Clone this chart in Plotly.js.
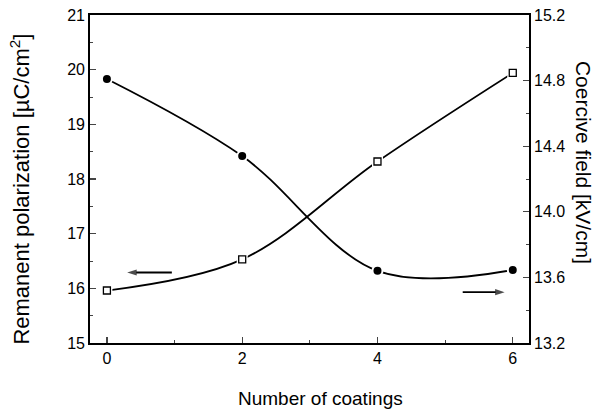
<!DOCTYPE html>
<html>
<head>
<meta charset="utf-8">
<script src="https://cdn.plot.ly/plotly-3.0.1.min.js"></script>
<style>html,body{margin:0;padding:0;background:#fff;}#chart{width:602px;height:419px;}</style>
</head>
<body>
<div id="chart"></div>
<script>
// Data
const coatings = [0, 2, 4, 6];
const remanentPolarization = [15.96, 16.53, 18.32, 19.94]; // µC/cm², left axis, open squares
const coerciveField = [14.81, 14.34, 13.64, 13.645];        // kV/cm, right axis, filled circles
const xTicks = [0, 2, 4, 6];
const leftTicks = [15, 16, 17, 18, 19, 20, 21];
const rightTicks = [13.2, 13.6, 14.0, 14.4, 14.8, 15.2];
// indicator arrows (tail -> head), in left-axis data units
const leftArrowX = [0.96, 0.30];
const leftArrowY = [16.29, 16.29];
const rightArrowX = [5.26, 5.88];
const rightArrowY = [15.93, 15.93];

const FONT = 'Liberation Sans, Arial, Helvetica, sans-serif';

const traces = [
  // curves
  {x: coatings, y: remanentPolarization, yaxis: 'y', mode: 'lines',
   line: {shape: 'spline', smoothing: 1, color: '#000', width: 1.8}, hoverinfo: 'skip', showlegend: false},
  {x: coatings, y: coerciveField, yaxis: 'y2', mode: 'lines',
   line: {shape: 'spline', smoothing: 1, color: '#000', width: 1.8}, hoverinfo: 'skip', showlegend: false},
  // white halos to mimic the gaps between line and symbol
  {x: coatings, y: remanentPolarization, yaxis: 'y', mode: 'markers',
   marker: {symbol: 'square', size: 11, color: '#fff'}, hoverinfo: 'skip', showlegend: false},
  {x: coatings, y: coerciveField, yaxis: 'y2', mode: 'markers',
   marker: {symbol: 'circle', size: 12, color: '#fff'}, hoverinfo: 'skip', showlegend: false},
  // symbols
  {x: coatings, y: remanentPolarization, yaxis: 'y', mode: 'markers', name: 'Remanent polarization',
   marker: {symbol: 'square', size: 7, color: '#fff', line: {color: '#000', width: 1.3}}, showlegend: false},
  {x: coatings, y: coerciveField, yaxis: 'y2', mode: 'markers', name: 'Coercive field',
   marker: {symbol: 'circle', size: 8, color: '#000', line: {color: '#000', width: 0}}, showlegend: false},
  // arrows
  {x: leftArrowX, y: leftArrowY, yaxis: 'y', mode: 'lines+markers',
   line: {color: '#000', width: 1.8},
   marker: {symbol: 'arrow', angleref: 'previous', size: [0, 10], color: '#000', line: {width: 0}},
   hoverinfo: 'skip', showlegend: false},
  {x: rightArrowX, y: rightArrowY, yaxis: 'y', mode: 'lines+markers',
   line: {color: '#000', width: 1.8},
   marker: {symbol: 'arrow', angleref: 'previous', size: [0, 10], color: '#000', line: {width: 0}},
   hoverinfo: 'skip', showlegend: false}
];

const layout = {
  width: 602, height: 419,
  margin: {l: 90, r: 73, t: 15, b: 76},
  paper_bgcolor: '#fff', plot_bgcolor: '#fff',
  font: {family: FONT, color: '#000', size: 16},
  showlegend: false,
  xaxis: {
    range: [-0.25, 6.24], tickvals: xTicks, ticks: 'inside', ticklen: 6, tickwidth: 1.3,
    minor: {dtick: 1, ticks: 'inside', ticklen: 3, tickwidth: 1},
    showline: true, linecolor: '#000', linewidth: 1.8, mirror: true,
    showgrid: false, zeroline: false,
    tickfont: {family: FONT, size: 16, color: '#000'}
  },
  yaxis: {
    range: [15, 21], tickvals: leftTicks, ticks: 'inside', ticklen: 6, tickwidth: 1.3,
    minor: {dtick: 0.5, ticks: 'inside', ticklen: 3, tickwidth: 1},
    showline: true, linecolor: '#000', linewidth: 1.8,
    showgrid: false, zeroline: false,
    tickfont: {family: FONT, size: 16, color: '#000'}
  },
  yaxis2: {
    overlaying: 'y', side: 'right',
    range: [13.2, 15.2], tickvals: rightTicks, tickformat: '.1f', ticks: 'inside', ticklen: 6, tickwidth: 1.3,
    minor: {dtick: 0.2, ticks: 'inside', ticklen: 3, tickwidth: 1},
    showline: true, linecolor: '#000', linewidth: 1.8,
    showgrid: false, zeroline: false,
    tickfont: {family: FONT, size: 16, color: '#000'}
  },
  annotations: [
    {text: 'Number of coatings', xref: 'paper', yref: 'paper', x: 0.524, y: -0.168,
     xanchor: 'center', yanchor: 'middle', showarrow: false,
     font: {family: FONT, size: 19, color: '#000'}},
    {text: 'Remanent polarization [µC/cm<sup>2</sup>]', xref: 'paper', yref: 'paper', x: -0.16, y: 0.47,
     xanchor: 'center', yanchor: 'middle', textangle: -90, showarrow: false,
     font: {family: FONT, size: 22, color: '#000'}},
    {text: 'Coercive field [kV/cm]', xref: 'paper', yref: 'paper', x: 1.123, y: 0.549,
     xanchor: 'center', yanchor: 'middle', textangle: 90, showarrow: false,
     font: {family: FONT, size: 21, color: '#000'}}
  ]
};

Plotly.newPlot('chart', traces, layout, {displayModeBar: false, staticPlot: true});
</script>
</body>
</html>
